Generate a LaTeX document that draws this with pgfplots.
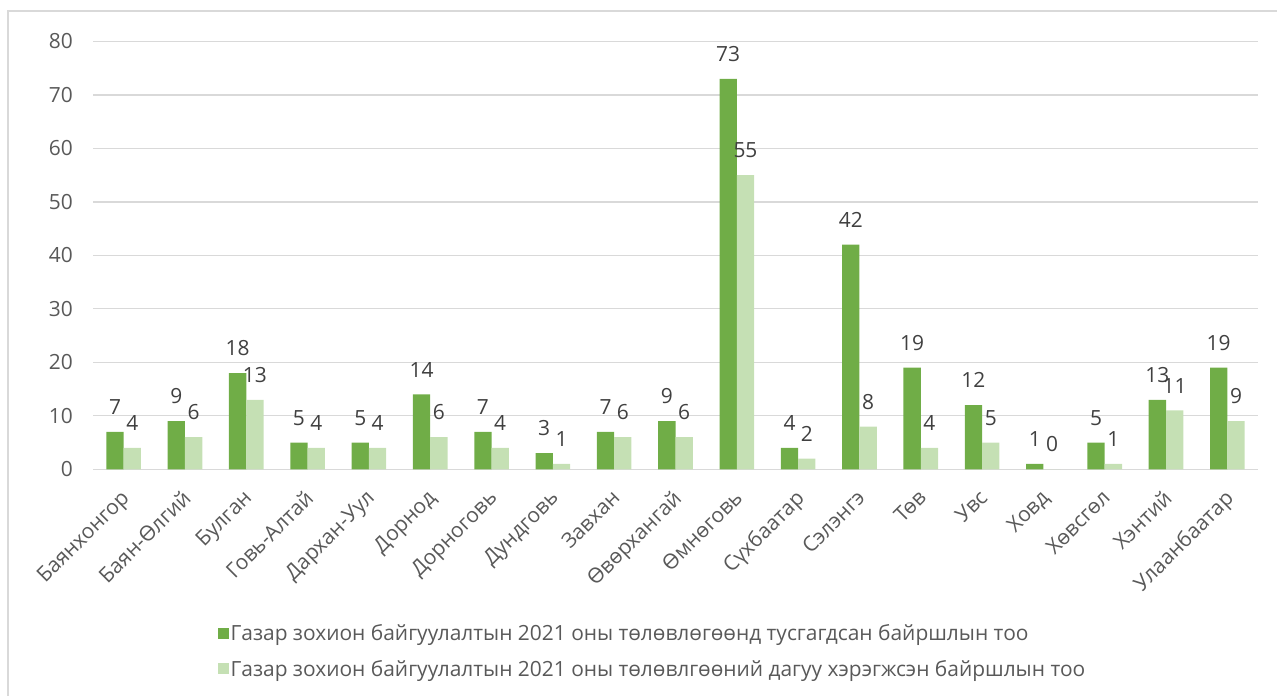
\documentclass[border=0pt]{standalone}
\usepackage{fontspec}
\setmainfont{Open Sans}
\usepackage{pgfplots}
\pgfplotsset{compat=1.18}
\definecolor{dg}{HTML}{70AD47}
\definecolor{lg}{HTML}{C5E0B4}
\definecolor{txt}{HTML}{595959}
\definecolor{lbl}{HTML}{404040}
\definecolor{gridc}{HTML}{D9D9D9}
\newcommand{\cf}{\fontsize{21}{25}\selectfont}
\begin{document}
\begin{tikzpicture}[x=1bp,y=1bp]
\useasboundingbox (0,0) rectangle (1277,696);
\draw[gridc, line width=1.3bp] (8,-2) -- (8,685) -- (1279,685);
\begin{axis}[
  at={(93bp,226.7bp)}, anchor=south west,
  scale only axis, width=1165bp, height=427.9bp,
  xmin=-0.5, xmax=18.5, ymin=0, ymax=80,
  ybar=0pt, bar width=17.3bp,
  axis line style={draw=none},
  major tick length=0pt,
  ytick={0,10,...,80},
  ymajorgrids, grid style={gridc, line width=1.3bp},
  xtick={0,...,18},
  xticklabels={Баянхонгор,Баян-Өлгий,Булган,Говь-Алтай,Дархан-Уул,Дорнод,Дорноговь,Дундговь,Завхан,Өвөрхангай,Өмнөговь,Сүхбаатар,Сэлэнгэ,Төв,Увс,Ховд,Хөвсгөл,Хэнтий,Улаанбаатар},
  xticklabel style={xshift=-4bp, yshift=-19bp, rotate=45, anchor=north east, inner sep=0pt},
  yticklabel style={anchor=east, inner sep=0pt, xshift=-20bp},
  tick label style={font=\cf, text=txt},
  /pgf/number format/assume math mode=true,
  nodes near coords,
  nodes near coords style={font=\cf, text=lbl, anchor=south, inner sep=0pt, yshift=17bp},
  legend style={at={(0.1067,-0.358)}, anchor=north west, draw=none, fill=none, font=\cf, text=txt, row sep=14bp, inner sep=0pt, legend cell align=left},
  legend image code/.code={\fill[#1] (0bp,-5.5bp) rectangle (11bp,5.5bp);},
  clip=false,
]
\addplot[fill=dg, draw=none] coordinates {(0,7) (1,9) (2,18) (3,5) (4,5) (5,14) (6,7) (7,3) (8,7) (9,9) (10,73) (11,4) (12,42) (13,19) (14,12) (15,1) (16,5) (17,13) (18,19)};
\addplot[fill=lg, draw=none] coordinates {(0,4) (1,6) (2,13) (3,4) (4,4) (5,6) (6,4) (7,1) (8,6) (9,6) (10,55) (11,2) (12,8) (13,4) (14,5) (15,0) (16,1) (17,11) (18,9)};
\legend{Газар зохион байгуулалтын 2021 оны төлөвлөгөөнд тусгагдсан байршлын тоо, Газар зохион байгуулалтын 2021 оны төлөвлгөөний дагуу хэрэгжсэн байршлын тоо}
\end{axis}
\end{tikzpicture}
\end{document}
